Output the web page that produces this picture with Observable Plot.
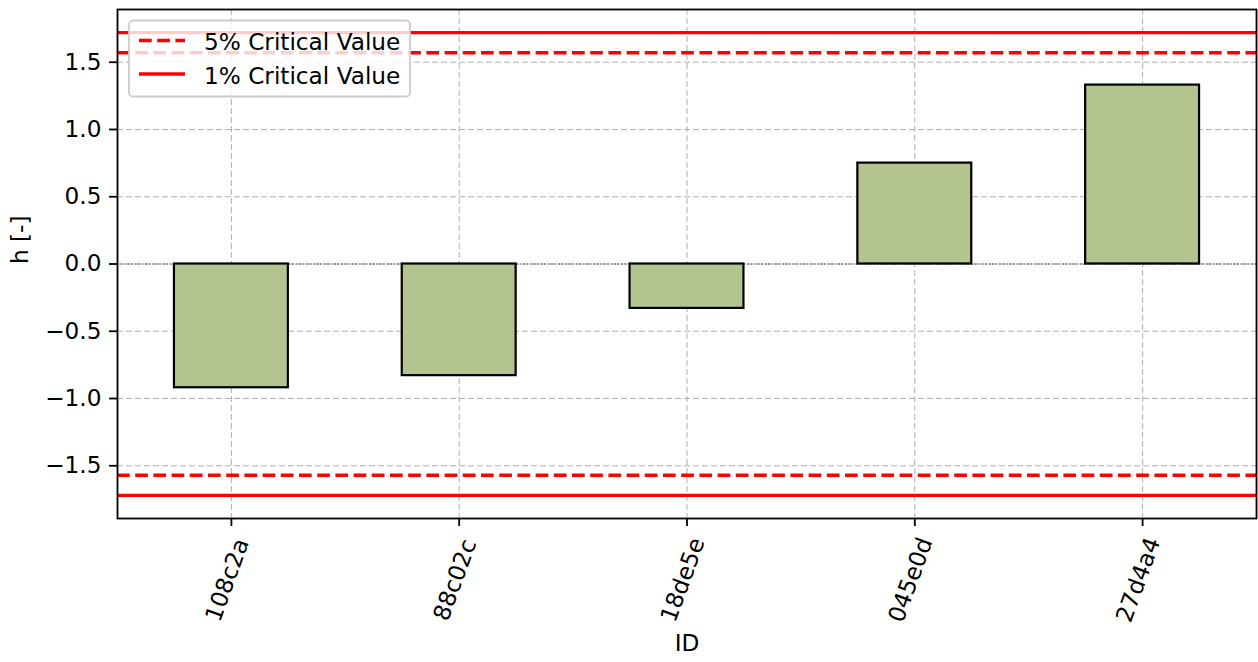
<!DOCTYPE html>
<html>
<head>
<meta charset="utf-8">
<script src="https://cdn.jsdelivr.net/npm/d3@7"></script>
<script src="https://cdn.jsdelivr.net/npm/@observablehq/plot@0.6"></script>
<style>
  html, body { margin: 0; padding: 0; background: white; }
  #chart svg { display: block; }
</style>
</head>
<body>
<div id="chart"></div>
<script>
const ids = ["108c2a", "88c02c", "18de5e", "045e0d", "27d4a4"];
const hValues = [-0.92, -0.83, -0.33, 0.75, 1.33];
const crit5 = 1.57;
const crit1 = 1.72;
const yTicks = [-1.5, -1.0, -0.5, 0.0, 0.5, 1.0, 1.5];
const legendLabels = ["5% Critical Value", "1% Critical Value"];
const xLabel = "ID";
const yLabel = "h [-]";

const data = ids.map((id, i) => ({id, h: hValues[i]}));
const ylim = 1.1 * crit1;
const FS = 23.2;

const chart = Plot.plot({
  width: 1258,
  height: 662,
  marginLeft: 117,
  marginRight: 2,
  marginTop: 9,
  marginBottom: 144,
  style: {fontFamily: "DejaVu Sans", fontSize: FS + "px", background: "white", color: "black"},
  x: {type: "band", domain: ids, paddingInner: 0.5, paddingOuter: 0.25, round: false, label: null},
  y: {domain: [-ylim, ylim], label: null},
  marks: [
    Plot.ruleY(yTicks, {stroke: "#b0b0b0", strokeWidth: 1, strokeDasharray: "6,3"}),
    Plot.ruleX(ids, {x: d => d, stroke: "#b0b0b0", strokeWidth: 1, strokeDasharray: "6,3"}),
    Plot.ruleY([0], {stroke: "#555", strokeWidth: 1, strokeDasharray: "2,1.5"}),
    Plot.barY(data, {x: "id", y: "h", fill: "#b3c48e", stroke: "black", strokeWidth: 2.2}),
    Plot.ruleY([crit5, -crit5], {stroke: "red", strokeWidth: 3.4, strokeDasharray: "12.7,5.5"}),
    Plot.ruleY([crit1, -crit1], {stroke: "red", strokeWidth: 3.4}),
    Plot.axisY({ticks: yTicks, tickSize: 8, tickPadding: 8, tickFormat: d3.format(".1f"), fontSize: FS, label: null, strokeWidth: 1.8}),
    Plot.axisX({tickSize: 8, tickFormat: () => "", label: null, strokeWidth: 1.8}),
    Plot.text(ids, {x: d => d, frameAnchor: "bottom", dx: 3, dy: 64, rotate: -70, textAnchor: "middle", fontSize: FS, fill: "black"}),
    Plot.text([xLabel], {text: d => d, frameAnchor: "bottom", dy: 132, fontSize: FS, fill: "black"}),
    Plot.text([yLabel], {text: d => d, frameAnchor: "left", dx: -97, rotate: -90, fontSize: FS, fill: "black"}),
    Plot.frame({stroke: "black", strokeWidth: 1.8})
  ]
});

document.getElementById("chart").appendChild(chart);

// Legend inside the axes (upper left)
const svg = d3.select(chart);
const lg = svg.append("g")
  .attr("font-family", "DejaVu Sans")
  .attr("font-size", FS)
  .attr("text-anchor", "start");
lg.append("rect")
  .attr("x", 129).attr("y", 20.5).attr("width", 281).attr("height", 76)
  .attr("rx", 4).attr("ry", 4)
  .attr("fill", "white").attr("fill-opacity", 0.8)
  .attr("stroke", "#cccccc").attr("stroke-width", 1.8);
const entries = [
  {label: legendLabels[0], dash: "12.7,5.5", ly: 40.5, ty: 50},
  {label: legendLabels[1], dash: null, ly: 74, ty: 83.5}
];
entries.forEach(e => {
  const l = lg.append("line")
    .attr("x1", 139).attr("x2", 185).attr("y1", e.ly).attr("y2", e.ly)
    .attr("stroke", "red").attr("stroke-width", 3.4);
  if (e.dash) l.attr("stroke-dasharray", e.dash);
  lg.append("text")
    .attr("x", 204).attr("y", e.ty)
    .attr("text-anchor", "start")
    .attr("fill", "black")
    .text(e.label);
});
</script>
</body>
</html>
